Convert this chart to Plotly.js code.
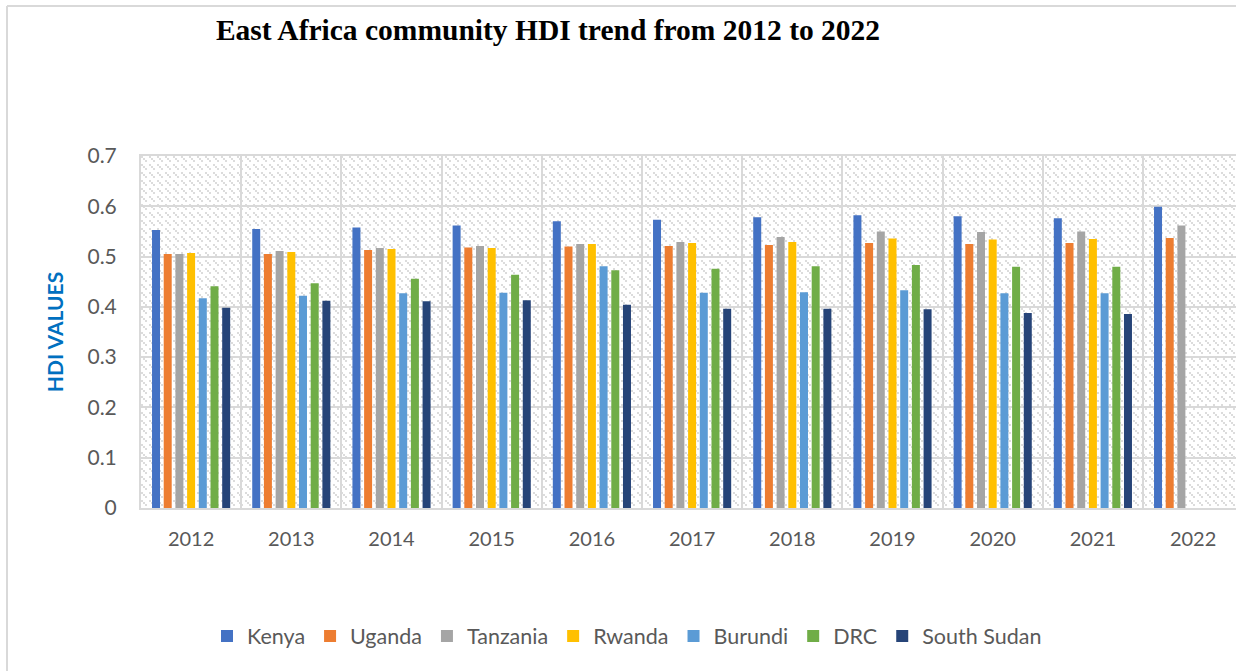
<!DOCTYPE html>
<html>
<head>
<meta charset="utf-8">
<script src="https://cdn.plot.ly/plotly-3.0.1.min.js"></script>
<style>
html,body{margin:0;padding:0;background:#fff;}
#chart{width:1236px;height:671px;}
</style>
</head>
<body>
<div id="chart"></div>
<script>
// ---- data ----
const years = ['2012','2013','2014','2015','2016','2017','2018','2019','2020','2021','2022'];
const kenya    = [0.553,0.555,0.558,0.562,0.570,0.573,0.578,0.582,0.580,0.576,0.599];
const uganda   = [0.505,0.505,0.513,0.518,0.520,0.521,0.523,0.527,0.525,0.527,0.537];
const tanzania = [0.505,0.511,0.517,0.521,0.525,0.529,0.539,0.550,0.549,0.550,0.562];
const rwanda   = [0.507,0.509,0.515,0.517,0.525,0.527,0.529,0.536,0.534,0.535,null];
const burundi  = [0.417,0.422,0.427,0.428,0.481,0.428,0.429,0.433,0.427,0.427,null];
const drc      = [0.441,0.447,0.456,0.464,0.473,0.476,0.481,0.483,0.480,0.480,null];
const ssudan   = [0.398,0.412,0.411,0.413,0.404,0.396,0.396,0.395,0.388,0.386,null];
const seriesNames = ['Kenya','Uganda','Tanzania','Rwanda','Burundi','DRC','South Sudan'];
const seriesValues = [kenya,uganda,tanzania,rwanda,burundi,drc,ssudan];
const colors = ['#4472C4','#ED7D31','#A5A5A5','#FFC000','#5B9BD5','#70AD47','#264478'];

const traces = seriesNames.map((n,i)=>({
  type:'bar', name:n, x:years, y:seriesValues[i],
  marker:{color:colors[i]}, hoverinfo:'x+y+name'
}));

// plot geometry
const L=141, T=156, B=163, W=1236, H=671;
const pw = W-L, ph = H-T-B;

// hatch background pattern
const svg = "<svg xmlns='http://www.w3.org/2000/svg' width='"+pw+"' height='"+ph+"' viewBox='0 0 "+pw+" "+ph+"'>"+
 "<defs><pattern id='p' width='8' height='8' patternUnits='userSpaceOnUse'>"+
 "<rect x='0' y='0' width='2' height='2' fill='#dcdcdc'/>"+
 "<rect x='2' y='2' width='2' height='2' fill='#dcdcdc'/>"+
 "<rect x='4' y='4' width='2' height='2' fill='#dcdcdc'/>"+
 "</pattern></defs><rect width='100%' height='100%' fill='url(#p)'/></svg>";
const bgSrc = 'data:image/svg+xml;charset=utf-8,' + encodeURIComponent(svg);

const grid = '#d9d9d9';
const layout = {
  width:W, height:H,
  margin:{l:L, r:0, t:T, b:B, pad:0},
  paper_bgcolor:'#ffffff', plot_bgcolor:'#ffffff',
  barmode:'group', bargap:0.183, bargroupgap:0.316,
  font:{family:'Lato, sans-serif', color:'#595959'},
  title:{
    text:'<b>East Africa community HDI trend from 2012 to 2022</b>',
    font:{family:'"Liberation Serif", "Times New Roman", serif', size:29.5, color:'#000'},
    xref:'container', x:548/W, xanchor:'center',
    yref:'container', y:1-30/H, yanchor:'middle'
  },
  xaxis:{
    type:'category', range:[-0.5, -0.5 + pw/100.2],
    tickson:'boundaries', showgrid:true, gridcolor:grid, gridwidth:2,
    ticks:'', tickfont:{size:20, color:'#595959'},
    ticklabelstandoff:12,
    showline:true, linecolor:grid, linewidth:2, mirror:true,
    zeroline:false, fixedrange:true
  },
  yaxis:{
    range:[0,0.7], dtick:0.1, tick0:0,
    showgrid:true, gridcolor:grid, gridwidth:2,
    ticks:'', tickfont:{size:21, color:'#595959'},
    ticklabelstandoff:18,
    showline:true, linecolor:grid, linewidth:2,
    zeroline:false, fixedrange:true,
    title:{text:'<b>HDI VALUES</b>', font:{size:21, color:'#0070C0', family:'Lato, sans-serif'}, standoff:18}
  },
  legend:{
    orientation:'h', x:627/1095 - 141/1095, xanchor:'center',
    y:(508-636)/352, yanchor:'middle',
    font:{size:21.5, color:'#595959'}, traceorder:'normal',
    itemwidth:30
  },
  images:[{
    source:bgSrc, xref:'x domain', yref:'y domain', x:0, y:1,
    sizex:1, sizey:1, xanchor:'left', yanchor:'top', sizing:'stretch', layer:'below'
  }],
  shapes:[
    {type:'line', xref:'paper', yref:'paper', x0:(7-L)/pw, x1:(7-L)/pw, y0:(508-6)/ph, y1:(508-700)/ph,
     line:{color:'#d9d9d9', width:2}},
    {type:'line', xref:'paper', yref:'paper', x0:(7-L)/pw, x1:1.05, y0:(508-6)/ph, y1:(508-6)/ph,
     line:{color:'#d9d9d9', width:2}}
  ],
  showlegend:true
};

Plotly.newPlot('chart', traces, layout, {displayModeBar:false, staticPlot:true});
</script>
</body>
</html>
